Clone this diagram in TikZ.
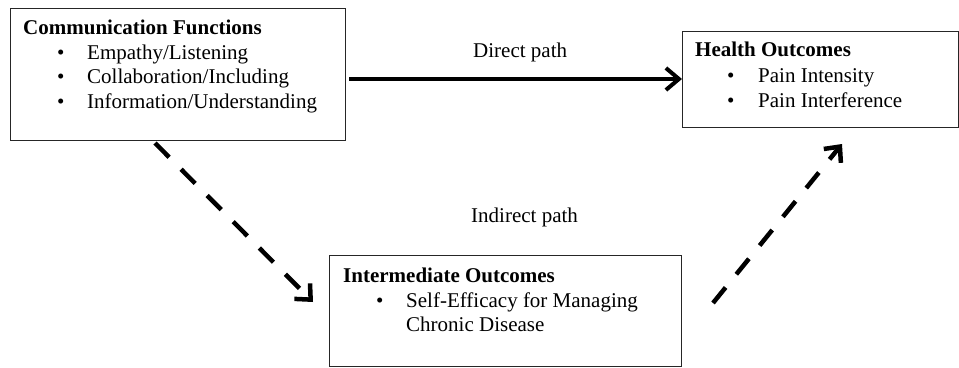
\documentclass[tikz,border=0pt]{standalone}
\usepackage{fontspec}
\setmainfont{Liberation Serif}
\usetikzlibrary{arrows.meta}
\begin{document}
\begin{tikzpicture}[x=1pt,y=-1pt,
  box/.style={draw=black!85, line width=1.4pt, rectangle, inner sep=0pt, anchor=north west},
  txt/.style={anchor=base west, inner sep=0pt, font=\fontsize{21}{24}\selectfont},
  ttl/.style={txt, font=\fontsize{21}{24}\selectfont\bfseries},
  bul/.style={anchor=base west, inner sep=0pt, font=\fontsize{21}{24}\selectfont},
  solidarrow/.style={line width=4pt, -{Straight Barb[length=13pt,width=22pt,line width=4pt]}},
  dasharrow/.style={line width=4.5pt, dash pattern=on 20pt off 17pt, -{Straight Barb[length=12pt,width=22pt,line width=4.5pt]}}
]
\useasboundingbox (0,0) rectangle (959,367);
% boxes
\node[box, minimum width=335pt, minimum height=132pt] (comm) at (10,8) {};
\node[box, minimum width=276pt, minimum height=96pt] (health) at (682,31) {};
\node[box, minimum width=352pt, minimum height=111pt] (inter) at (329,255) {};
% communication text
\node[ttl] (commT) at (23,34) {Communication Functions};
\node[bul] (cb1) at (57,59) {•};
\node[txt] (c1) at (87,59) {Empathy/Listening};
\node[bul] (cb2) at (57,83.5) {•};
\node[txt] (c2) at (87,83.5) {Collaboration/Including};
\node[bul] (cb3) at (57,108) {•};
\node[txt] (c3) at (87,108) {Information/Understanding};
% health text
\node[ttl] (healthT) at (695,56) {Health Outcomes};
\node[bul] (hb1) at (727,82) {•};
\node[txt] (h1) at (758,82) {Pain Intensity};
\node[bul] (hb2) at (727,107) {•};
\node[txt] (h2) at (758,107) {Pain Interference};
% intermediate text
\node[ttl] (interT) at (343,282) {Intermediate Outcomes};
\node[bul] (ib1) at (376,307) {•};
\node[txt] (i1) at (406,307) {Self-Efficacy for Managing};
\node[txt] (i2) at (406,331) {Chronic Disease};
% path labels
\node[txt] (direct) at (473,57) {Direct path};
\node[txt] (indirect) at (471,222) {Indirect path};
% connector endpoints
\coordinate (dS) at (comm.east |- 0,79);
\coordinate (dE) at (health.west |- 0,79);
\coordinate (a1S) at (155,143);
\coordinate (a1E) at (313,302);
\coordinate (a2S) at (713,303);
\coordinate (a2E) at (842,144);
\draw[solidarrow] ([xshift=3pt]dS) -- (dE);
\draw[dasharrow] (a1S) -- (a1E);
\draw[dasharrow] (a2S) -- (a2E);
\end{tikzpicture}
\end{document}
